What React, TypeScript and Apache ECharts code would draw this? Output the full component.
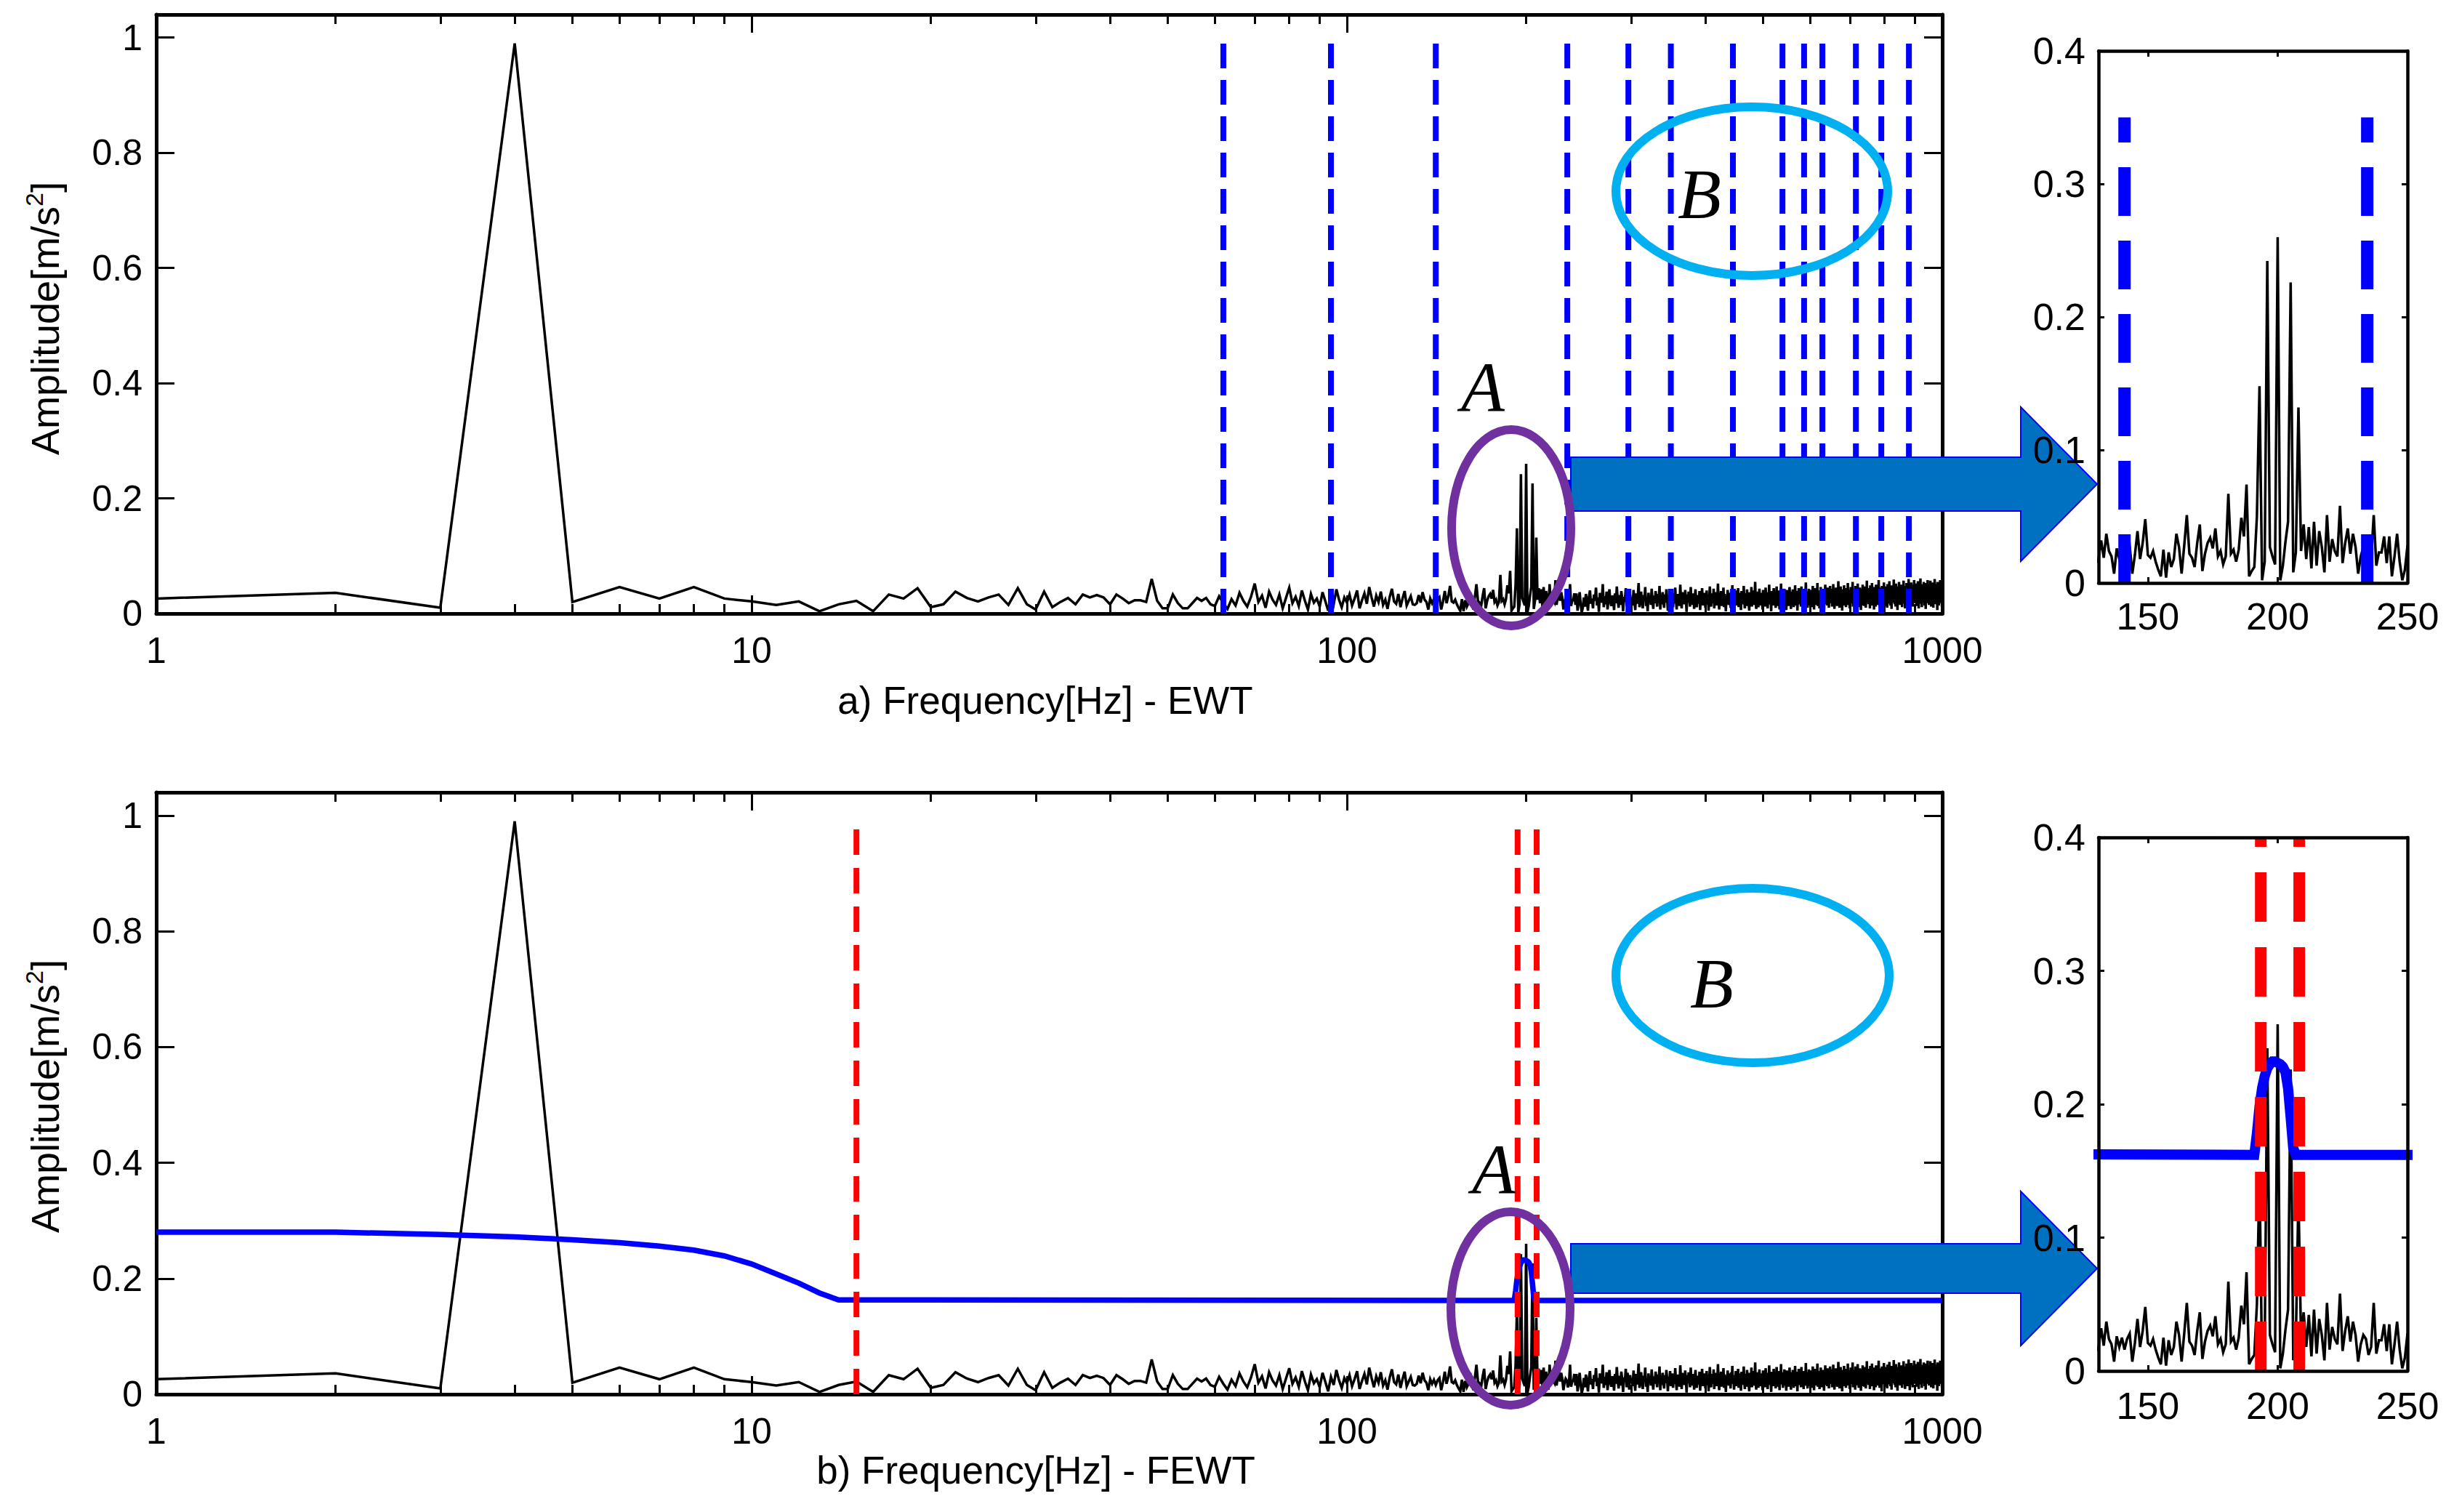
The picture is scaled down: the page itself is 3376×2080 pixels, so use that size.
import React, { useEffect, useRef } from 'react';
import * as echarts from 'echarts';

// Spectrum amplitudes in thousandths of m/s^2, 1 Hz resolution
const amp1to129 = [
  26, 36, 10, 990, 20, 46, 26, 46, 26, 21, 15, 21,
  4, 16, 22, 4, 33, 26, 44, 11, 16, 38,
  27, 21, 28, 33, 15, 44, 16, 7, 38, 11,
  20, 27, 16, 33, 28, 32, 28, 16, 33, 26,
  18, 23, 23, 20, 60, 22, 9, 9, 33, 18,
  9, 9, 18, 27, 22, 27, 16, 13,
  30, 18, 8, 25, 14, 36, 22, 12, 29, 52,
  20, 31, 10, 38, 24, 15, 33, 9, 27, 45,
  18, 29, 13, 40, 22, 7, 34, 19, 26, 12,
  37, 21, 5, 30, 16, 42, 24, 11, 28, 19,
  33, 14, 26, 40, 9, 23, 35, 17, 46, 28,
  12, 31, 20, 38, 15, 24, 8, 29, 43, 21,
  17, 34, 11, 26, 39, 14, 22, 30, 16,
];
const amp130to250 = [
  15, 18, 32, 19, 37, 24, 20, 7, 26, 18,
  25, 16, 24, 28, 7, 21, 39, 18, 30, 48,
  21, 19, 24, 16, 10, 5, 25, 4, 23, 12,
  18, 37, 27, 7, 28, 51, 22, 19, 12, 30,
  44, 9, 22, 30, 34, 26, 41, 20, 24, 14,
  20, 67, 22, 25, 16, 25, 49, 35, 74, 5,
  9, 12, 50, 148, 2, 16, 242, 27, 20, 14,
  260, 2, 13, 31, 46, 226, 8, 23, 132, 24,
  44, 18, 42, 11, 46, 13, 39, 27, 8, 51,
  16, 33, 24, 20, 58, 15, 30, 41, 22, 37,
  27, 7, 20, 27, 24, 12, 18, 51, 13, 23,
  23, 35, 15, 35, 5, 20, 37, 16, 2, 10,
  28,
];
const amp251to500 = [
  12, 34, 21, 5, 29, 40, 17, 26, 9, 33, 22, 45, 14, 28, 3, 36, 19, 24, 51, 11,
  30, 16, 38, 7, 25, 42, 20, 13, 31, 27, 6, 35, 18, 47, 23, 10, 32, 15, 39, 26,
  4, 29, 21, 44, 12, 37, 24, 8, 33, 19,
  28, 14, 41, 22, 6, 35, 17, 30, 53, 11, 25, 38, 19, 9, 32, 24, 46, 13, 27, 4,
  36, 20, 29, 15, 43, 23, 8, 31, 18, 39, 26, 12, 34, 21, 48, 7, 28, 16, 37, 24,
  10, 33, 19, 42, 27, 5, 30, 22, 40, 14,
  25, 36, 11, 29, 18, 45, 23, 7, 34, 20, 31, 13, 50, 26, 9, 37, 21, 28, 16, 41,
  24, 3, 33, 19, 38, 27, 12, 46, 22, 30, 15, 35, 8, 28, 42, 20, 11, 32, 25, 17,
  39, 6, 29, 23, 44, 14, 31, 19, 36, 10,
  27, 40, 16, 33, 5, 24, 47, 21, 12, 35, 28, 18, 43, 9, 30, 22, 37, 14, 26, 52,
  19, 7, 32, 25, 39, 13, 29, 20, 45, 11, 34, 23, 4, 31, 17, 41, 26, 15, 36, 21,
  10, 38, 24, 49, 18, 28, 8, 33, 22, 40,
  14, 30, 25, 44, 11, 36, 19, 27, 6, 39, 23, 32, 16, 48, 21, 9, 35, 28, 13, 42,
  24, 31, 17, 5, 37, 26, 20, 46, 12, 33, 22, 40, 15, 29, 55, 18, 8, 34, 25, 38,
  11, 27, 43, 20, 30, 14, 36, 23, 7, 41,
];
const amp501to750 = [
  26, 19, 33, 12, 45, 28, 21, 37, 9, 30, 24, 50, 16, 35, 27, 4, 39, 22, 31, 14,
  44, 25, 18, 36, 10, 29, 47, 20, 34, 13, 40, 26, 7, 32, 23, 52, 17, 28, 38, 11,
  30, 21, 43, 15, 35, 24, 6, 41, 27, 19,
  36, 13, 29, 46, 22, 33, 8, 38, 25, 17, 42, 28, 11, 34, 20, 49, 26, 14, 31, 39,
  5, 27, 23, 44, 16, 35, 21, 30, 12, 47, 24, 37, 18, 28, 9, 40, 32, 15, 26, 54,
  19, 33, 22, 10, 38, 27, 43, 14, 30, 25,
  41, 18, 34, 11, 29, 48, 23, 36, 7, 31, 26, 44, 15, 38, 21, 28, 53, 13, 33, 24,
  40, 9, 30, 19, 46, 27, 35, 12, 25, 42, 20, 37, 6, 32, 28, 50, 16, 39, 23, 29,
  14, 45, 26, 34, 10, 36, 22, 48, 18, 31,
  27, 43, 12, 35, 24, 51, 19, 30, 8, 39, 28, 16, 45, 22, 33, 13, 40, 26, 56, 20,
  31, 10, 37, 25, 47, 17, 34, 29, 5, 42, 23, 36, 14, 49, 27, 32, 19, 38, 11, 44,
  26, 30, 21, 53, 15, 35, 24, 41, 9, 33,
  28, 46, 17, 38, 23, 31, 55, 12, 36, 26, 42, 19, 29, 8, 48, 24, 34, 15, 40, 27,
  52, 21, 33, 11, 37, 30, 45, 18, 25, 6, 43, 28, 35, 20, 50, 14, 39, 26, 31, 13,
  47, 23, 36, 10, 41, 29, 57, 19, 32, 24,
];
const amp751to1000 = [
  38, 16, 44, 27, 33, 9, 49, 22, 36, 28, 14, 53, 25, 31, 41, 18, 35, 7, 46, 29,
  24, 39, 12, 50, 27, 34, 20, 43, 15, 37, 30, 58, 21, 26, 11, 45, 32, 19, 40, 28,
  5, 48, 24, 35, 17, 42, 30, 54, 22, 33,
  13, 39, 27, 47, 20, 36, 31, 10, 51, 25, 42, 17, 34, 29, 56, 22, 38, 14, 45, 28,
  33, 8, 49, 26, 40, 19, 35, 30, 59, 23, 44, 16, 37, 27, 12, 52, 31, 41, 21, 34,
  6, 47, 28, 39, 18, 55, 25, 36, 30, 15,
  43, 27, 50, 20, 35, 11, 46, 32, 38, 24, 57, 17, 40, 29, 34, 9, 48, 26, 42, 21,
  53, 31, 14, 45, 28, 37, 19, 60, 25, 39, 33, 7, 47, 23, 41, 30, 54, 16, 36, 28,
  44, 12, 50, 26, 38, 21, 58, 32, 18, 43,
  29, 52, 24, 37, 13, 46, 31, 40, 20, 56, 27, 35, 9, 49, 33, 22, 44, 28, 61, 17,
  38, 30, 42, 11, 51, 25, 36, 19, 47, 32, 55, 23, 40, 14, 45, 29, 34, 8, 53, 27,
  39, 21, 48, 31, 58, 18, 36, 26, 43, 15,
  50, 30, 38, 22, 57, 25, 41, 12, 46, 33, 28, 54, 19, 37, 44, 10, 49, 29, 35, 23,
  60, 27, 42, 16, 51, 31, 39, 20, 47, 34, 6, 55, 26, 40, 30, 45, 14, 52, 28, 36,
  21, 58, 32, 43, 18, 48, 25, 38, 11, 44,
];

// Boundaries (Hz)
const ewtBoundaries = [62, 94, 141, 234.5, 297, 350, 445, 539, 586, 629, 716, 790, 879];
const fewtBoundaries = [15, 193.5, 208.3];
const insetEwtBoundaries = [141, 234.5];
const insetFewtBoundaries = [193.5, 208.3];

// FEWT threshold curve
const filterFreq = [1, 2, 3, 4, 5, 6, 7, 8, 9, 10, 11, 12, 13, 14,
  191, 192, 193, 194, 195, 196, 197, 198, 199, 200, 201, 202, 203, 204, 205, 206, 207, 1000];
const filterAmp = [0.28, 0.28, 0.276, 0.272, 0.267, 0.262, 0.256, 0.249, 0.239, 0.225, 0.208, 0.192, 0.175, 0.163,
  0.162, 0.178, 0.198, 0.212, 0.221, 0.227, 0.23, 0.232, 0.232, 0.231, 0.23, 0.228, 0.224, 0.212, 0.19, 0.167, 0.162, 0.162];

// Tick definitions
const minorTickFreqs = [2, 3, 4, 5, 6, 7, 8, 9, 20, 30, 40, 50, 60, 70, 80, 90, 200, 300, 400, 500, 600, 700, 800, 900];
const insetXTicks = [150, 200, 250];

const FONT = 'Liberation Sans';

function band(start: number, arr: number[]) {
  return arr.map((a, i) => [start + i, a / 1000]);
}

function buildOption() {
  const spectrum = [
    ...band(1, amp1to129),
    ...band(130, amp130to250),
    ...band(251, amp251to500),
    ...band(501, amp501to750),
    ...band(751, amp751to1000),
  ];
  const insetSpectrum = band(130, amp130to250);
  const filter = filterFreq.map((f, i) => [f, filterAmp[i]]);
  const minorLog = minorTickFreqs.map((f) => Math.log10(f));

  const grids = [
    { left: 215, top: 20, width: 2457, height: 824 },
    { left: 215, top: 1090, width: 2457, height: 828 },
    { left: 2887, top: 70, width: 425, height: 732 },
    { left: 2887, top: 1152, width: 425, height: 734 },
  ];

  const lineCol = '#000';
  const mainAxisW = 5;
  const mainX = (g: number) => [
    {
      type: 'log', logBase: 10, gridIndex: g, min: 1, max: 1000, position: 'bottom',
      axisLine: { show: true, onZero: false, lineStyle: { color: lineCol, width: mainAxisW } },
      axisTick: { show: true, inside: true, length: 25, lineStyle: { color: lineCol, width: 3 } },
      axisLabel: { show: true, margin: 26, fontSize: 50, fontFamily: FONT, color: '#000', formatter: (v: number) => String(Math.round(v)) },
      splitLine: { show: false }, minorTick: { show: false },
    },
    {
      type: 'log', logBase: 10, gridIndex: g, min: 1, max: 1000, position: 'top',
      axisLine: { show: true, onZero: false, lineStyle: { color: lineCol, width: mainAxisW } },
      axisTick: { show: true, inside: true, length: 25, lineStyle: { color: lineCol, width: 3 } },
      axisLabel: { show: false }, splitLine: { show: false },
    },
    {
      type: 'value', gridIndex: g, min: 0, max: 3, position: 'bottom',
      axisLine: { show: false, onZero: false },
      axisTick: { show: true, inside: true, length: 13, customValues: minorLog, lineStyle: { color: lineCol, width: 3 } },
      axisLabel: { show: false }, splitLine: { show: false },
    },
    {
      type: 'value', gridIndex: g, min: 0, max: 3, position: 'top',
      axisLine: { show: false, onZero: false },
      axisTick: { show: true, inside: true, length: 13, customValues: minorLog, lineStyle: { color: lineCol, width: 3 } },
      axisLabel: { show: false }, splitLine: { show: false },
    },
  ];
  const mainY = (g: number) => [
    {
      type: 'value', gridIndex: g, min: 0, max: 1.04, interval: 0.2, position: 'left',
      axisLine: { show: true, onZero: false, lineStyle: { color: lineCol, width: mainAxisW } },
      axisTick: { show: true, inside: true, length: 25, lineStyle: { color: lineCol, width: 3 } },
      axisLabel: { show: true, margin: 19, fontSize: 50, fontFamily: FONT, color: '#000', showMaxLabel: false,
        formatter: (v: number) => String(Math.round(v * 10) / 10) },
      splitLine: { show: false },
    },
    {
      type: 'value', gridIndex: g, min: 0, max: 1.04, interval: 0.2, position: 'right',
      axisLine: { show: true, onZero: false, lineStyle: { color: lineCol, width: mainAxisW } },
      axisTick: { show: true, inside: true, length: 25, lineStyle: { color: lineCol, width: 3 } },
      axisLabel: { show: false }, splitLine: { show: false },
    },
  ];
  const insetX = (g: number, margin: number) => [
    {
      type: 'value', gridIndex: g, min: 131, max: 250, position: 'bottom', z: 110,
      axisLine: { show: true, onZero: false, lineStyle: { color: lineCol, width: 4.5 } },
      axisTick: { show: true, inside: true, length: 8, customValues: insetXTicks, lineStyle: { color: lineCol, width: 3 } },
      axisLabel: { show: true, customValues: insetXTicks, margin, fontSize: 52, fontFamily: FONT, color: '#000' },
      splitLine: { show: false },
    },
    {
      type: 'value', gridIndex: g, min: 131, max: 250, position: 'top', z: 110,
      axisLine: { show: true, onZero: false, lineStyle: { color: lineCol, width: 4.5 } },
      axisTick: { show: true, inside: true, length: 8, customValues: insetXTicks, lineStyle: { color: lineCol, width: 3 } },
      axisLabel: { show: false }, splitLine: { show: false },
    },
  ];
  const insetY = (g: number) => [
    {
      type: 'value', gridIndex: g, min: 0, max: 0.4, interval: 0.1, position: 'left', z: 110,
      axisLine: { show: true, onZero: false, lineStyle: { color: lineCol, width: 4.5 } },
      axisTick: { show: true, inside: true, length: 8, lineStyle: { color: lineCol, width: 3 } },
      axisLabel: { show: true, margin: 18, fontSize: 52, fontFamily: FONT, color: '#000',
        formatter: (v: number) => String(Math.round(v * 10) / 10) },
      splitLine: { show: false },
    },
    {
      type: 'value', gridIndex: g, min: 0, max: 0.4, interval: 0.1, position: 'right', z: 110,
      axisLine: { show: true, onZero: false, lineStyle: { color: lineCol, width: 4.5 } },
      axisTick: { show: true, inside: true, length: 8, lineStyle: { color: lineCol, width: 3 } },
      axisLabel: { show: false }, splitLine: { show: false },
    },
  ];

  // xAxis indices: grid0: 0-3, grid1: 4-7, grid2: 8-9, grid3: 10-11
  // yAxis indices: grid0: 0-1, grid1: 2-3, grid2: 4-5, grid3: 6-7
  const xAxis = [...mainX(0), ...mainX(1), ...insetX(2, 20), ...insetX(3, 22)];
  const yAxis = [...mainY(0), ...mainY(1), ...insetY(2), ...insetY(3)];

  const line = (xi: number, yi: number, data: number[][], color: string, width: number, z: number) => ({
    type: 'line', xAxisIndex: xi, yAxisIndex: yi, data, symbol: 'none', silent: true, z,
    lineStyle: { color, width, cap: 'butt', join: 'miter' },
  });
  const dashes = (freqs: number[], top: number, xi: number, yi: number, color: string, width: number, dash: number[], z: number) =>
    freqs.map((f) => ({
      type: 'line', xAxisIndex: xi, yAxisIndex: yi, data: [[f, 0], [f, top]], symbol: 'none', silent: true, z,
      lineStyle: { color, width, type: dash, cap: 'butt' },
    }));

  const series = [
    line(0, 0, spectrum, '#000', 3.5, 2),
    ...dashes(ewtBoundaries, 0.99, 0, 0, '#0000FF', 8, [34, 16], 3),
    line(4, 2, spectrum, '#000', 3.5, 2),
    line(4, 2, filter, '#0000FF', 7.5, 3),
    ...dashes(fewtBoundaries, 0.99, 4, 2, '#FF0000', 8, [35, 18], 4),
    line(8, 4, insetSpectrum, '#000', 3.5, 101),
    ...dashes(insetEwtBoundaries, 0.35, 8, 4, '#0000FF', 17, [67, 34], 102),
    line(10, 6, insetSpectrum, '#000', 3.5, 101),
    line(10, 6, filter, '#0000FF', 14, 102),
    ...dashes(insetFewtBoundaries, 0.4, 10, 6, '#FF0000', 16, [68, 35], 103),
  ];

  const arrow = (cy: number, halfShaft: number, halfHead: number) => ({
    type: 'polygon', z: 50, silent: true,
    shape: {
      points: [
        [2161, cy - halfShaft], [2780, cy - halfShaft], [2780, cy - halfHead], [2885, cy],
        [2780, cy + halfHead], [2780, cy + halfShaft], [2161, cy + halfShaft],
      ],
    },
    style: { fill: '#0070C0', stroke: '#0000FF', lineWidth: 2 },
  });
  const ellipse = (cx: number, cy: number, rx: number, ry: number, stroke: string) => ({
    type: 'ellipse', z: 60, silent: true, shape: { cx, cy, rx, ry },
    style: { fill: 'none', stroke, lineWidth: 12 },
  });
  const letter = (t: string, x: number, y: number) => ({
    type: 'text', z: 60, silent: true, x, y,
    style: { text: t, fontSize: 98, fontFamily: 'Liberation Serif', fontStyle: 'italic', fill: '#000', align: 'center', verticalAlign: 'middle' },
  });
  const title = (t: string, x: number, y: number) => ({
    type: 'text', z: 10, silent: true, x, y,
    style: { text: t, fontSize: 53, fontFamily: FONT, fill: '#000', align: 'center', verticalAlign: 'middle' },
  });
  const ylabel = (x: number, y: number) => ({
    type: 'text', z: 10, silent: true, x, y, rotation: Math.PI / 2,
    style: {
      text: '{m|Amplitude[m/s}{s|2}{m|]}', align: 'center', verticalAlign: 'middle', fill: '#000',
      rich: {
        m: { fontSize: 54, fontFamily: FONT, lineHeight: 64, fill: '#000' },
        s: { fontSize: 34, fontFamily: FONT, lineHeight: 34, verticalAlign: 'top', fill: '#000' },
      },
    },
  });

  const graphic = [
    arrow(666, 37, 106),
    arrow(1745, 34, 106),
    ellipse(2079, 726, 82, 135, '#7030A0'),
    ellipse(2410, 263, 187, 116, '#00B0F0'),
    ellipse(2078, 1800, 82, 133, '#7030A0'),
    ellipse(2411, 1342, 188, 120, '#00B0F0'),
    letter('A', 2040, 532),
    letter('B', 2338, 267),
    letter('A', 2055, 1608),
    letter('B', 2355, 1353),
    title('a) Frequency[Hz] - EWT', 1438, 963),
    title('b) Frequency[Hz] - FEWT', 1425, 2022),
    ylabel(62, 438),
    ylabel(62, 1508),
  ];

  return {
    animation: false,
    backgroundColor: '#ffffff',
    grid: grids,
    xAxis,
    yAxis,
    series,
    graphic,
  };
}

export default function App() {
  const ref = useRef<HTMLDivElement>(null);
  useEffect(() => {
    document.body.style.margin = '0';
    const chart = echarts.init(ref.current!, null, { renderer: 'svg', width: 3376, height: 2080 });
    chart.setOption(buildOption() as any);
    return () => chart.dispose();
  }, []);
  return <div ref={ref} style={{ width: 3376, height: 2080, background: '#fff' }} />;
}
